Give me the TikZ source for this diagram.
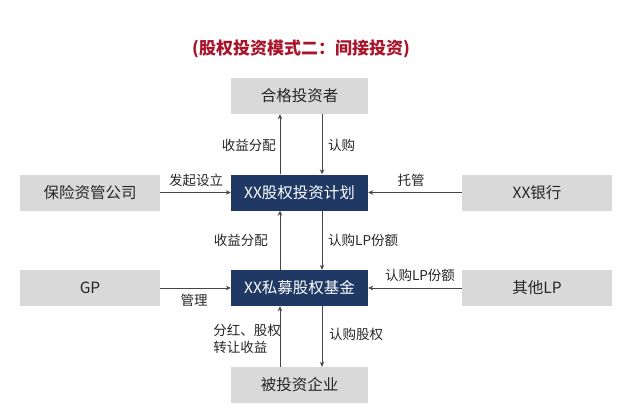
\documentclass[tikz,border=0pt]{standalone}
\usepackage{fontspec}
\setmainfont{Noto Sans CJK SC}
\usetikzlibrary{arrows.meta}
\definecolor{boxgray}{HTML}{D9D9D9}
\definecolor{navy}{HTML}{1F3864}
\definecolor{linegray}{HTML}{454545}
\definecolor{titlered}{HTML}{A8152B}
\tikzset{
  graybox/.style={draw=none,fill=boxgray,minimum width=137pt,minimum height=36pt,inner sep=0pt,font=\fontsize{15.5}{18}\selectfont,text=black!85},
  sidebox/.style={graybox,minimum width=140pt},
  navybox/.style={draw=none,fill=navy,minimum width=137pt,minimum height=36pt,inner sep=0pt,font=\fontsize{15.5}{18}\selectfont,text=white},
  arr/.style={draw=linegray,line width=0.9pt,-{Stealth[length=5pt,width=4.5pt]}},
  lbl/.style={inner sep=0pt,font=\fontsize{13.5}{17}\selectfont,text=black!85,align=left}
}
\begin{document}
\begin{tikzpicture}[x=1pt,y=-1pt]
\useasboundingbox[fill=white] (0,0) rectangle (640,412);
\node[font=\fontsize{17}{20}\selectfont\bfseries,text=titlered] (title) at (301,49) {(股权投资模式二：间接投资)};
\node[graybox] (top) at (299.5,96) {合格投资者};
\node[navybox] (plan) at (299.5,192.5) {XX股权投资计划};
\node[sidebox] (ins) at (90,192.5) {保险资管公司};
\node[sidebox,minimum width=150pt] (bank) at (537,192.5) {XX银行};
\node[navybox] (fund) at (299.5,288) {XX私募股权基金};
\node[sidebox] (gp) at (90,288) {GP};
\node[sidebox,minimum width=150pt] (lp) at (537,288) {其他LP};
\node[graybox] (firm) at (299.5,385) {被投资企业};
% vertical arrows
\draw[arr] ([xshift=-19.5pt]plan.north) -- ([xshift=-19.5pt]top.south);
\draw[arr] ([xshift=22.5pt]top.south) -- ([xshift=22.5pt]plan.north);
\draw[arr] ([xshift=-19.5pt]fund.north) -- ([xshift=-19.5pt]plan.south);
\draw[arr] ([xshift=22.5pt]plan.south) -- ([xshift=22.5pt]fund.north);
\draw[arr] ([xshift=-19.5pt]firm.north) -- ([xshift=-19.5pt]fund.south);
\draw[arr] ([xshift=22.5pt]fund.south) -- ([xshift=22.5pt]firm.north);
% horizontal arrows
\draw[arr] (ins.east) -- (plan.west);
\draw[arr] (bank.west) -- (plan.east);
\draw[arr] (gp.east) -- (fund.west);
\draw[arr] (lp.west) -- (fund.east);
% labels
\node[lbl,anchor=east] (l1) at (276,145) {收益分配};
\node[lbl,anchor=west] (l2) at (328,145) {认购};
\node[lbl] (l3) at (196,180) {发起设立};
\node[lbl] (l4) at (411,180) {托管};
\node[lbl,anchor=east] (l5) at (268,240) {收益分配};
\node[lbl,anchor=west] (l6) at (328,240) {认购LP份额};
\node[lbl] (l7) at (194,300) {管理};
\node[lbl] (l8) at (420,275) {认购LP份额};
\node[lbl,anchor=east] (l9) at (281,339) {分红、股权\\转让收益};
\node[lbl,anchor=west] (l10) at (329,334) {认购股权};
\end{tikzpicture}
\end{document}
